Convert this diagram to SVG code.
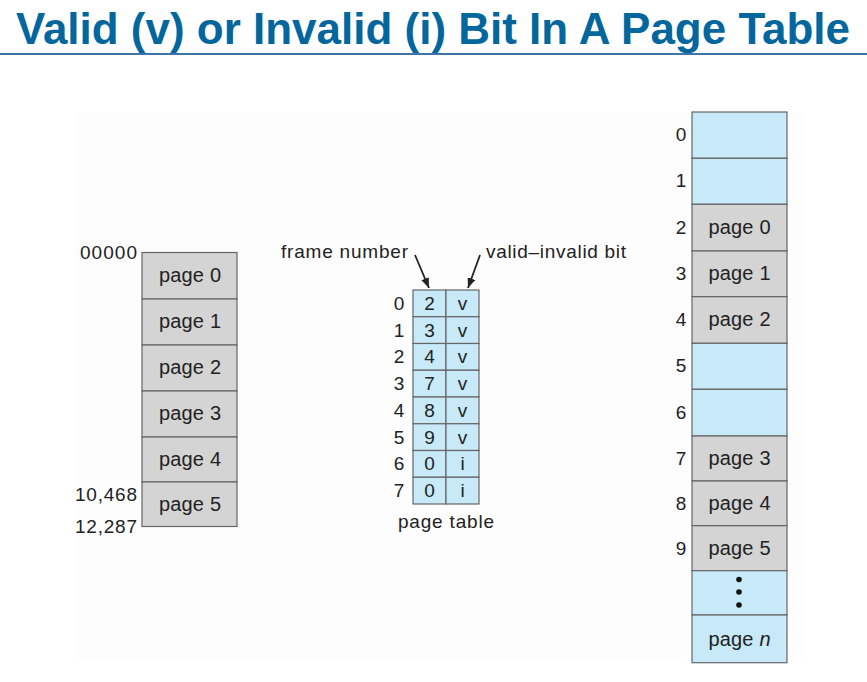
<svg xmlns="http://www.w3.org/2000/svg" width="867" height="682" viewBox="0 0 867 682">
<defs>
<style>
.t{font-family:"Liberation Sans",Arial,sans-serif;font-size:19px;fill:#222}
.p{font-size:20px}
.c{text-anchor:middle}
.r{text-anchor:end}
.g{fill:#d4d4d4;stroke:#666;stroke-width:1.2}
.b{fill:#c8e9f8;stroke:#666;stroke-width:1.2}
.ln{stroke:#222;stroke-width:1.8;fill:none}
</style>
<marker id="ah" viewBox="0 0 10 8" refX="10" refY="4" markerWidth="10" markerHeight="8" markerUnits="userSpaceOnUse" orient="auto">
<path d="M0,0 L10,4 L0,8 z" fill="#222"/>
</marker>
</defs>
<rect width="867" height="682" fill="#fff"/>
<rect x="74" y="112" width="730" height="546" fill="#fdfdfd"/>
<g id="title">
<text x="16" y="44" textLength="834" lengthAdjust="spacingAndGlyphs" style="font-family:'Liberation Sans',Arial,sans-serif;font-weight:bold;font-size:44px;fill:#03679e">Valid (v) or Invalid (i) Bit In A Page Table</text>
<line x1="0" y1="54" x2="867" y2="54" stroke="#3f74ab" stroke-width="2"/>
</g>
<g id="logical-memory">
<rect class="g" x="142" y="252.5" width="95" height="46.5"/>
<rect class="g" x="142" y="299" width="95" height="46"/>
<rect class="g" x="142" y="345" width="95" height="46"/>
<rect class="g" x="142" y="391" width="95" height="46"/>
<rect class="g" x="142" y="437" width="95" height="45"/>
<rect class="g" x="142" y="482" width="95" height="44.5"/>
<text class="t p c" x="190" y="282" textLength="62">page 0</text>
<text class="t p c" x="190" y="328" textLength="62">page 1</text>
<text class="t p c" x="190" y="374" textLength="62">page 2</text>
<text class="t p c" x="190" y="420" textLength="62">page 3</text>
<text class="t p c" x="190" y="466" textLength="62">page 4</text>
<text class="t p c" x="190" y="511" textLength="62">page 5</text>
<text class="t r" x="137" y="259" textLength="57">00000</text>
<text class="t r" x="137" y="501" textLength="62">10,468</text>
<text class="t r" x="137" y="533" textLength="62">12,287</text>
</g>
<g id="page-table">
<rect class="b" x="413" y="290" width="33" height="26.75"/><rect class="b" x="446" y="290" width="33" height="26.75"/>
<rect class="b" x="413" y="316.75" width="33" height="26.75"/><rect class="b" x="446" y="316.75" width="33" height="26.75"/>
<rect class="b" x="413" y="343.5" width="33" height="26.75"/><rect class="b" x="446" y="343.5" width="33" height="26.75"/>
<rect class="b" x="413" y="370.25" width="33" height="26.75"/><rect class="b" x="446" y="370.25" width="33" height="26.75"/>
<rect class="b" x="413" y="397" width="33" height="26.75"/><rect class="b" x="446" y="397" width="33" height="26.75"/>
<rect class="b" x="413" y="423.75" width="33" height="26.75"/><rect class="b" x="446" y="423.75" width="33" height="26.75"/>
<rect class="b" x="413" y="450.5" width="33" height="26.75"/><rect class="b" x="446" y="450.5" width="33" height="26.75"/>
<rect class="b" x="413" y="477.25" width="33" height="26.75"/><rect class="b" x="446" y="477.25" width="33" height="26.75"/>
<text class="t c" x="399" y="309.8">0</text><text class="t c" x="429.5" y="309.8">2</text><text class="t c" x="462.5" y="309.8">v</text>
<text class="t c" x="399" y="336.5">1</text><text class="t c" x="429.5" y="336.5">3</text><text class="t c" x="462.5" y="336.5">v</text>
<text class="t c" x="399" y="363.3">2</text><text class="t c" x="429.5" y="363.3">4</text><text class="t c" x="462.5" y="363.3">v</text>
<text class="t c" x="399" y="390">3</text><text class="t c" x="429.5" y="390">7</text><text class="t c" x="462.5" y="390">v</text>
<text class="t c" x="399" y="416.8">4</text><text class="t c" x="429.5" y="416.8">8</text><text class="t c" x="462.5" y="416.8">v</text>
<text class="t c" x="399" y="443.5">5</text><text class="t c" x="429.5" y="443.5">9</text><text class="t c" x="462.5" y="443.5">v</text>
<text class="t c" x="399" y="470.3">6</text><text class="t c" x="429.5" y="470.3">0</text><text class="t c" x="462.5" y="470.3">i</text>
<text class="t c" x="399" y="497">7</text><text class="t c" x="429.5" y="497">0</text><text class="t c" x="462.5" y="497">i</text>
<text class="t c" x="446" y="528" textLength="96">page table</text>
<text class="t" x="281" y="258" textLength="127">frame number</text>
<text class="t" x="486" y="258" textLength="140">valid–invalid bit</text>
</g>
<g id="physical-memory">
<rect class="b" x="692" y="112" width="95" height="46.3"/>
<rect class="b" x="692" y="158.3" width="95" height="46"/>
<rect class="g" x="692" y="204.3" width="95" height="46.7"/>
<rect class="g" x="692" y="251" width="95" height="45.7"/>
<rect class="g" x="692" y="296.7" width="95" height="46.6"/>
<rect class="b" x="692" y="343.3" width="95" height="46"/>
<rect class="b" x="692" y="389.3" width="95" height="46.7"/>
<rect class="g" x="692" y="436" width="95" height="45"/>
<rect class="g" x="692" y="481" width="95" height="44.7"/>
<rect class="g" x="692" y="525.7" width="95" height="45"/>
<rect class="b" x="692" y="570.7" width="95" height="44.3"/>
<rect class="b" x="692" y="615" width="95" height="47.7"/>
<text class="t c" x="681" y="141">0</text>
<text class="t c" x="681" y="187">1</text>
<text class="t c" x="681" y="234">2</text>
<text class="t c" x="681" y="280">3</text>
<text class="t c" x="681" y="326">4</text>
<text class="t c" x="681" y="372">5</text>
<text class="t c" x="681" y="419">6</text>
<text class="t c" x="681" y="465">7</text>
<text class="t c" x="681" y="510">8</text>
<text class="t c" x="681" y="555">9</text>
<text class="t p c" x="739.5" y="234" textLength="62">page 0</text>
<text class="t p c" x="739.5" y="280" textLength="62">page 1</text>
<text class="t p c" x="739.5" y="326" textLength="62">page 2</text>
<text class="t p c" x="739.5" y="465" textLength="62">page 3</text>
<text class="t p c" x="739.5" y="510" textLength="62">page 4</text>
<text class="t p c" x="739.5" y="555" textLength="62">page 5</text>
<text class="t p c" x="739.5" y="646" textLength="62">page <tspan font-style="italic">n</tspan></text>
<circle cx="739" cy="579.5" r="2.8" fill="#111"/>
<circle cx="739" cy="592" r="2.8" fill="#111"/>
<circle cx="739" cy="605" r="2.8" fill="#111"/>
</g>
<g id="connectors">
<line class="ln" x1="415" y1="255" x2="429" y2="288" marker-end="url(#ah)"/>
<line class="ln" x1="480" y1="255" x2="468" y2="288" marker-end="url(#ah)"/>
</g>
</svg>
